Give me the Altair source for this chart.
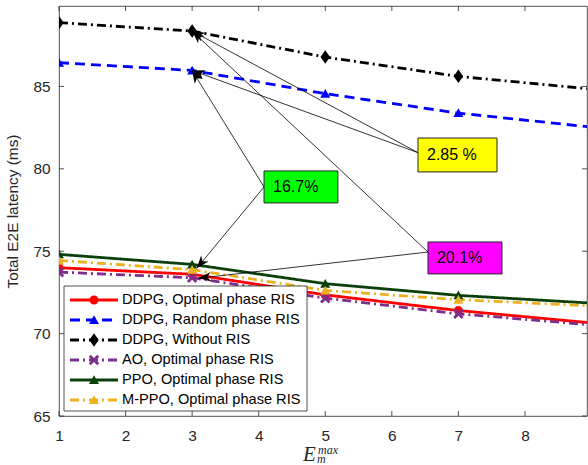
import math
import altair as alt
import pandas as pd

# ---------------- data ----------------
x_vals = [1, 3, 5, 7, 9]
series_names = [
    "DDPG, Optimal phase RIS",
    "DDPG, Random phase RIS",
    "DDPG, Without RIS",
    "AO, Optimal phase RIS",
    "PPO, Optimal phase RIS",
    "M-PPO, Optimal phase RIS",
]
ddpg_opt = [74.0, 73.6, 72.35, 71.4, 70.65]
ddpg_rand = [86.44, 85.97, 84.56, 83.38, 82.53]
ddpg_wo = [88.87, 88.36, 86.78, 85.61, 84.84]
ao_opt = [73.73, 73.39, 72.15, 71.2, 70.53]
ppo_opt = [74.81, 74.2, 73.03, 72.32, 71.85]
mppo_opt = [74.44, 73.88, 72.62, 72.06, 71.68]
all_series = [ddpg_opt, ddpg_rand, ddpg_wo, ao_opt, ppo_opt, mppo_opt]

x_ticks = [1, 2, 3, 4, 5, 6, 7, 8]
y_ticks = [65, 70, 75, 80, 85]

annot_labels = ["2.85 %", "16.7%", "20.1%"]
annot_fills = ["#FFFF00", "#00FF00", "#FF00FF"]

# ---------------- geometry / style ----------------
W, H = 528, 410
XMIN, XMAX = 1, 8.932
YMIN, YMAX = 65, 89.88
AX = "#262626"
FONT = "Liberation Sans"

colors = ["#FF0000", "#0000FF", "#000000", "#7E2F8E", "#0B400B", "#EDB120"]
dashes = [[1, 0], [10, 6], [9, 4, 2, 4], [9, 4, 2, 4], [1, 0], [9, 4, 2, 4]]
CIRCLE = "M0.9,0A0.9,0.9 0 1,1 -0.9,0A0.9,0.9 0 1,1 0.9,0Z"
TRI = "M0,-0.95L1.0,0.8L-1.0,0.8Z"
DIAM = "M0,-1.35L0.95,0L0,1.35L-0.95,0Z"
XSH = ("M-1.05,-0.65L-0.65,-1.05L0,-0.4L0.65,-1.05L1.05,-0.65L0.4,0L1.05,0.65"
       "L0.65,1.05L0,0.4L-0.65,1.05L-1.05,0.65L-0.4,0Z")
shapes = [CIRCLE, TRI, DIAM, XSH, TRI, TRI]
MSIZE = 100

rows = []
for k, (name, vals) in enumerate(zip(series_names, all_series)):
    for xv, yv in zip(x_vals, vals):
        rows.append({"series": name, "x": xv, "y": yv, "k": k})
df = pd.DataFrame(rows)

xs = alt.Scale(domain=[XMIN, XMAX], nice=False, zero=False)
ys = alt.Scale(domain=[YMIN, YMAX], nice=False, zero=False)
cs = alt.Scale(domain=series_names, range=colors)
ds = alt.Scale(domain=series_names, range=dashes)
ss = alt.Scale(domain=series_names, range=shapes)

x_axis = alt.Axis(values=x_ticks, title=None, grid=False, ticks=False, domain=False,
                  labelFont=FONT, labelFontSize=15.4, labelColor=AX, labelPadding=12,
                  labelFlush=False)
y_axis = alt.Axis(values=y_ticks, title="Total E2E latency (ms)", grid=False, ticks=False,
                  domain=False, labelFont=FONT, labelFontSize=15.4, labelColor=AX,
                  labelPadding=9, titleFont=FONT, titleFontSize=15.4, titleColor=AX,
                  titleFontWeight="normal", titlePadding=12)


def X(field):
    return alt.X(field, scale=xs, axis=x_axis)


def Y(field):
    return alt.Y(field, scale=ys, axis=y_axis)


lines = alt.Chart(df).mark_line(strokeWidth=2.8, clip=True).encode(
    x=X("x:Q"), y=Y("y:Q"),
    color=alt.Color("series:N", scale=cs, legend=None),
    strokeDash=alt.StrokeDash("series:N", scale=ds, legend=None),
    order=alt.Order("x:Q"),
)
points = alt.Chart(df).mark_point(filled=True, strokeWidth=1, size=MSIZE, clip=True, opacity=1).encode(
    x=X("x:Q"), y=Y("y:Q"),
    color=alt.Color("series:N", scale=cs, legend=None),
    shape=alt.Shape("series:N", scale=ss, legend=None),
)

# inward ticks (box style)
dxt = pd.DataFrame({"v": x_ticks})
dyt = pd.DataFrame({"v": y_ticks})
tick_style = dict(color=AX, strokeWidth=0.8)
tb = alt.Chart(dxt).mark_rule(**tick_style).encode(
    x=X("v:Q"), y=alt.value(H), y2=alt.value(H - 5))
tt = alt.Chart(dxt).mark_rule(**tick_style).encode(
    x=X("v:Q"), y=alt.value(0), y2=alt.value(5))
tl = alt.Chart(dyt).mark_rule(**tick_style).encode(
    y=Y("v:Q"), x=alt.value(0), x2=alt.value(5))
tr = alt.Chart(dyt).mark_rule(**tick_style).encode(
    y=Y("v:Q"), x=alt.value(W), x2=alt.value(W - 5))

# ---------------- annotations (data coordinates) ----------------
boxes = pd.DataFrame({
    "text": annot_labels,
    "fill": annot_fills,
    "bx1": [6.393, 4.08, 6.543],
    "bx2": [7.58, 5.19, 7.655],
    "by1": [79.81, 77.93, 73.62],
    "by2": [81.87, 79.87, 75.56],
})
boxes["ym"] = (boxes["by1"] + boxes["by2"]) / 2

tails = {"2.85 %": (6.393, 80.98), "16.7%": (4.08, 78.90), "20.1%": (6.543, 74.95)}
targets = {
    "2.85 %": [(3.0, 88.36), (3.0, 85.97)],
    "16.7%": [(3.0, 85.97), (3.069, 73.96)],
    "20.1%": [(3.0, 88.36), (3.093, 73.36)],
}


def x2px(v):
    return (v - XMIN) / (XMAX - XMIN) * W


def y2px(v):
    return (YMAX - v) / (YMAX - YMIN) * H


arr_rows = []
for lab in annot_labels:
    tx, ty = tails[lab]
    for hx, hy in targets[lab]:
        dxp = x2px(hx) - x2px(tx)
        dyp = y2px(hy) - y2px(ty)
        ang = math.degrees(math.atan2(dxp, -dyp)) % 360
        arr_rows.append({"x0": tx, "y0": ty, "x1": hx, "y1": hy, "ang": ang})
arr = pd.DataFrame(arr_rows)

arrow_lines = alt.Chart(arr).mark_rule(color="black", strokeWidth=0.8).encode(
    x=X("x0:Q"), y=Y("y0:Q"), x2="x1:Q", y2="y1:Q")
ARROW = "M0,0L0.6,1.6L0,1.15L-0.6,1.6Z"
arrow_heads = alt.Chart(arr).mark_point(shape=ARROW, filled=True, color="black",
                                        size=250, opacity=1, strokeWidth=0).encode(
    x=X("x1:Q"), y=Y("y1:Q"), angle=alt.Angle("ang:Q", scale=None))

box_rects = alt.Chart(boxes).mark_rect(stroke=AX, strokeWidth=1).encode(
    x=X("bx1:Q"), x2="bx2:Q", y=Y("by1:Q"), y2="by2:Q",
    fill=alt.Fill("fill:N", scale=None))
box_text = alt.Chart(boxes).mark_text(align="left", baseline="middle", dx=9, font=FONT,
                                      fontSize=16, color="black").encode(
    x=X("bx1:Q"), y=Y("ym:Q"), text="text:N")

# ---------------- legend ----------------
one = pd.DataFrame({"a": [0]})
leg_frame = alt.Chart(one).mark_rect(fill="white", stroke=AX, strokeWidth=0.8).encode(
    x=alt.value(5), x2=alt.value(248), y=alt.value(280), y2=alt.value(405))
leg = pd.DataFrame({"series": series_names, "i": list(range(len(series_names)))})
k_py = (YMAX - YMIN) / H
leg_base = alt.Chart(leg).transform_calculate(
    ly=f"{YMAX} - (294 + 20*datum.i)*{k_py}")
leg_lines = leg_base.mark_rule(strokeWidth=2.8).encode(
    x=alt.value(11), x2=alt.value(59), y=Y("ly:Q"),
    color=alt.Color("series:N", scale=cs, legend=None),
    strokeDash=alt.StrokeDash("series:N", scale=ds, legend=None))
leg_pts = leg_base.mark_point(filled=True, strokeWidth=1, size=MSIZE, opacity=1).encode(
    x=alt.value(35), y=Y("ly:Q"),
    color=alt.Color("series:N", scale=cs, legend=None),
    shape=alt.Shape("series:N", scale=ss, legend=None))
leg_txt = leg_base.mark_text(align="left", baseline="middle", font=FONT, fontSize=14.6,
                             color="black").encode(
    x=alt.value(63), y=Y("ly:Q"), text="series:N")

# ---------------- x title (E_m^max) ----------------
t_E = alt.Chart(one).mark_text(text="E", font="Liberation Serif", fontStyle="italic",
                               fontSize=21, align="left", baseline="alphabetic",
                               color=AX).encode(x=alt.value(244), y=alt.value(455))
t_sup = alt.Chart(one).mark_text(text="max", font="Liberation Serif", fontStyle="italic",
                                 fontSize=12, align="left", baseline="alphabetic",
                                 color=AX).encode(x=alt.value(259), y=alt.value(448))
t_sub = alt.Chart(one).mark_text(text="m", font="Liberation Serif", fontStyle="italic",
                                 fontSize=12, align="left", baseline="alphabetic",
                                 color=AX).encode(x=alt.value(258), y=alt.value(457))

chart = alt.layer(
    lines, points, tb, tt, tl, tr,
    arrow_lines, arrow_heads, box_rects, box_text,
    leg_frame, leg_lines, leg_pts, leg_txt,
    t_E, t_sup, t_sub,
).properties(
    width=W, height=H,
    autosize=alt.AutoSizeParams(type="none"),
    padding={"left": 59, "top": 6, "right": 1, "bottom": 49},
    background="white",
).configure_view(stroke=AX, strokeWidth=0.8)

chart.save("out.html", embed_options={"renderer": "svg", "actions": False})
